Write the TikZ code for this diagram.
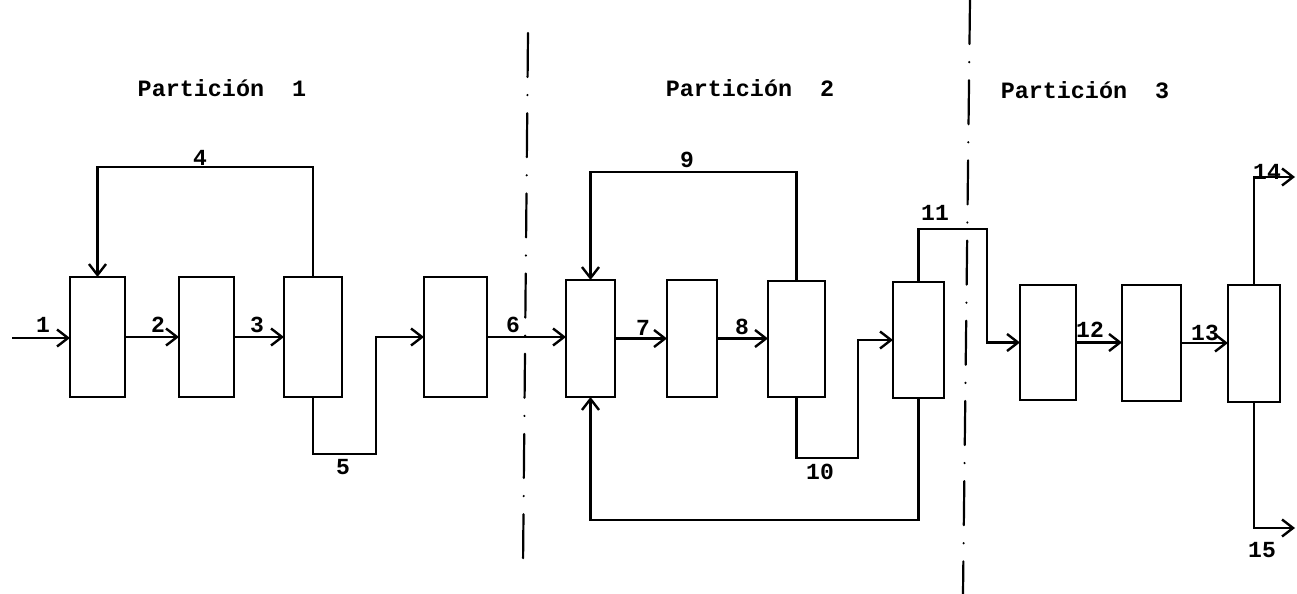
\documentclass[tikz,border=0pt]{standalone}
\usepackage{fontspec}
\setmainfont{Liberation Mono}
\usetikzlibrary{arrows.meta}
\begin{document}
\begin{tikzpicture}[x=0.5pt,y=-0.5pt,
  blk/.style 2 args={draw, line width=1.3pt, inner sep=0pt, outer sep=0pt, minimum width=#1, minimum height=#2},
  flow/.style={draw, line width=1.2pt, line join=miter, -{Straight Barb[length=5.5pt,width=8.5pt]}},
  lab/.style={font=\bfseries\fontsize{11.5}{12}\selectfont, inner sep=0pt},
  ttl/.style={font=\bfseries\fontsize{11.7}{12}\selectfont, inner sep=0pt},
  part/.style={draw, line width=1.1pt, line cap=round, dash pattern=on 22pt off 9pt on 0.1pt off 9pt}]
\useasboundingbox (0,0) rectangle (1297,594);

% titles
\node[ttl] (t1) at (222,88) {Partición~~1};
\node[ttl] (t2) at (750,88) {Partición~~2};
\node[ttl] (t3) at (1085,90) {Partición~~3};

% partition lines
\coordinate (p1a) at (528,33);
\coordinate (p1b) at (523,567);
\coordinate (p2a) at (970,0);
\coordinate (p2b) at (963,594);
\draw[part] (p1a) -- (p1b);
\draw[part] (p2a) -- (p2b);

% units
\node[blk={27.5pt}{60pt}] (A) at (97.5,337) {};
\node[blk={27.5pt}{60pt}] (B) at (206.5,337) {};
\node[blk={29pt}{60pt}] (C) at (313,337) {};
\node[blk={31.5pt}{60pt}] (D) at (455.5,337) {};
\node[blk={24.5pt}{58.5pt}] (E) at (590.5,338.5) {};
\node[blk={25pt}{58.5pt}] (F) at (692,338.5) {};
\node[blk={28.5pt}{58pt}] (G) at (796.5,339) {};
\node[blk={25.5pt}{58pt}] (H) at (918.5,340) {};
\node[blk={28pt}{57.5pt}] (I) at (1048,342.5) {};
\node[blk={29.5pt}{58pt}] (J) at (1151.5,343) {};
\node[blk={26pt}{58.5pt}] (K) at (1254,343.5) {};

% route coordinates
\coordinate (in1) at (12,338);
\coordinate (r4) at (0,167);
\coordinate (k5) at (376,454);
\coordinate (r9) at (0,172);
\coordinate (k10) at (858,458);
\coordinate (rr) at (0,520);
\coordinate (k11) at (987,229);
\coordinate (o14) at (1295,177);
\coordinate (o15) at (1295,528);

% streams
\draw[flow] (in1) -- (in1 -| A.west);
\draw[flow] (A.east) -- (A.east -| B.west);
\draw[flow] (B.east) -- (B.east -| C.west);
\draw[flow] (C.north) |- (r4 -| A.north) -- (A.north);
\draw[flow] (C.south) |- (k5) |- (D.west);
\draw[flow] (D.east) -- (D.east -| E.west);
\draw[flow] (E.east) -- (E.east -| F.west);
\draw[flow] (F.east) -- (F.east -| G.west);
\draw[flow] (G.north) |- (r9 -| E.north) -- (E.north);
\draw[flow] (G.south) |- (k10) |- (H.west);
\draw[flow] (H.south) |- (rr -| E.south) -- (E.south);
\draw[flow] (H.north) |- (k11) |- (I.west);
\draw[flow] (I.east) -- (I.east -| J.west);
\draw[flow] (J.east) -- (J.east -| K.west);
\draw[flow] (K.north) |- (o14);
\draw[flow] (K.south) |- (o15);

% stream labels
\node[lab] (l1) at (43,325) {1};
\node[lab] (l2) at (158,325) {2};
\node[lab] (l3) at (257,325) {3};
\node[lab] (l4) at (200,158) {4};
\node[lab] (l5) at (343,467) {5};
\node[lab] (l6) at (513,325) {6};
\node[lab] (l7) at (643,328) {7};
\node[lab] (l8) at (742,327) {8};
\node[lab] (l9) at (687,160) {9};
\node[lab] (l10) at (820,472) {10};
\node[lab] (l11) at (935,213) {11};
\node[lab] (l12) at (1090,330) {12};
\node[lab] (l13) at (1205,333) {13};
\node[lab] (l14) at (1267,172) {14};
\node[lab] (l15) at (1262,550) {15};
\end{tikzpicture}
\end{document}
